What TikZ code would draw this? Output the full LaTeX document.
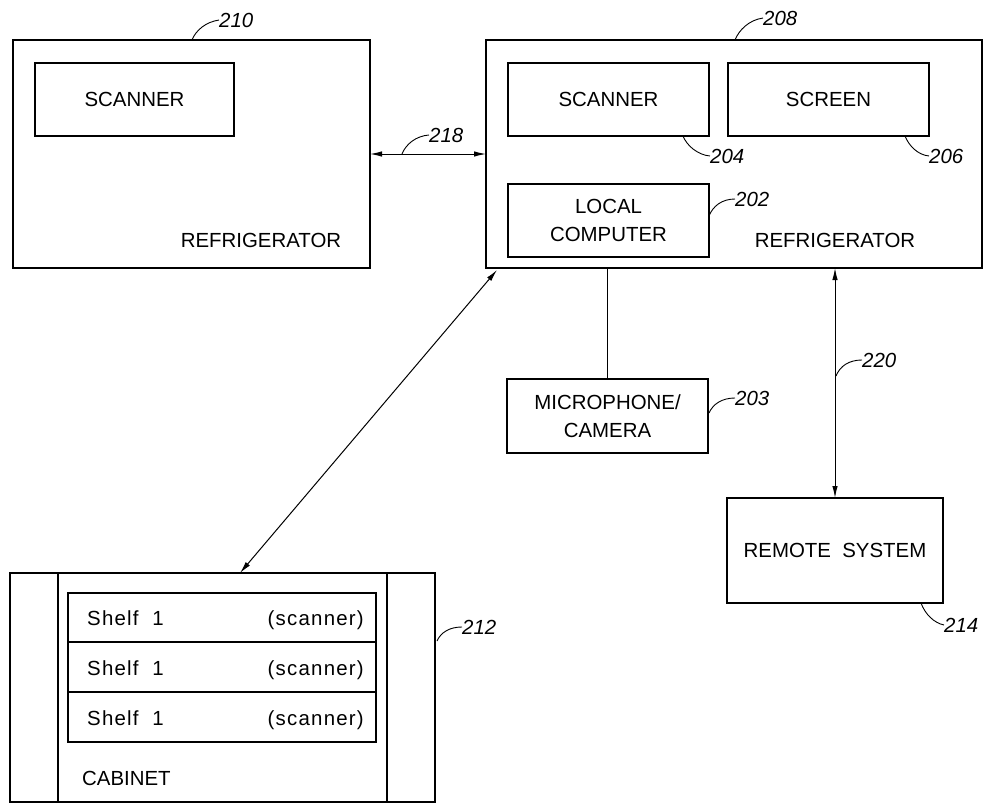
\documentclass[tikz,border=0pt]{standalone}
\usepackage{fontspec}
\setmainfont{Liberation Sans}
\usetikzlibrary{arrows.meta,calc}
\begin{document}
\begin{tikzpicture}[x=1bp,y=-1bp,
  box/.style={draw, line width=1.6bp, inner sep=0pt, outer sep=0pt, anchor=north west},
  txt/.style={font=\fontsize{20.5}{25}\selectfont, inner sep=0pt},
  shtxt/.style={font=\fontsize{20.5}{25}\selectfont\addfontfeatures{LetterSpace=6}, inner sep=0pt},
  lbl/.style={font=\fontsize{20.5}{25}\selectfont\itshape, inner sep=0pt, anchor=west},
  lead/.style={line width=0.9bp},
  conn/.style={line width=1bp},
  arr/.style={conn, {Latex[length=12bp,width=5.5bp]}-{Latex[length=12bp,width=5.5bp]}}]
\useasboundingbox (0,0) rectangle (992,804);
% refrigerator 210
\node[box, minimum width=357bp, minimum height=228bp] (f210) at (13,40) {};
\node[box, minimum width=199bp, minimum height=73bp] (s210) at (35,63) {};
\node[txt] at (s210.center) {SCANNER};
\node[txt] (r210) at (261,240) {REFRIGERATOR};
% refrigerator 208
\node[box, minimum width=496bp, minimum height=228bp] (f208) at (486,40) {};
\node[box, minimum width=201bp, minimum height=73bp] (s204) at (508,63) {};
\node[txt] at (s204.center) {SCANNER};
\node[box, minimum width=201bp, minimum height=73bp] (s206) at (728,63) {};
\node[txt] at (s206.center) {SCREEN};
\node[box, minimum width=201bp, minimum height=73bp] (c202) at (508,184) {};
\node[txt, align=center] at (c202.center) {LOCAL\\[3bp]COMPUTER};
\node[txt] (r208) at (835,240) {REFRIGERATOR};
% microphone
\node[box, minimum width=201bp, minimum height=74bp] (mic) at (507,379) {};
\node[txt, align=center] at (mic.center) {MICROPHONE/\\[3bp]CAMERA};
% remote
\node[box, minimum width=216bp, minimum height=105bp] (rem) at (727,498) {};
\node[txt] at (rem.center) {REMOTE\ \ SYSTEM};
% cabinet
\node[box, minimum width=425bp, minimum height=229bp] (cab) at (10,573) {};
\draw[line width=1.2bp] ($(cab.north west)+(48,0)$) -- ($(cab.south west)+(48,0)$);
\draw[line width=1.2bp] ($(cab.north west)+(377,0)$) -- ($(cab.south west)+(377,0)$);
\node[box, line width=1.2bp, minimum width=308bp, minimum height=49bp] (sh1) at (68,593) {};
\node[box, line width=1.2bp, minimum width=308bp, minimum height=50bp] (sh2) at (68,642) {};
\node[box, line width=1.2bp, minimum width=308bp, minimum height=50bp] (sh3) at (68,692) {};
\foreach \s in {sh1,sh2,sh3}{
  \node[shtxt, anchor=base west] at ($(\s.west)+(19,8)$) {Shelf\ \ 1};
  \node[shtxt, anchor=base east] at ($(\s.east)+(-12,8)$) {(scanner)};
}
\node[txt, anchor=west] (cabt) at (82,778) {CABINET};
% connectors
\draw[arr] (f210.east) -- (f208.west);
\draw[conn] (mic.north) -- (mic.north |- f208.south);
\draw[arr] (rem.north) -- (rem.north |- f208.south);
\coordinate (dtop) at ($(f208.south west)+(11,2)$);
\coordinate (dbot) at ($(cab.north west)+(230,0)$);
\draw[arr] (dbot) -- (dtop);
% reference labels
\node[lbl] (l210) at (219,20) {210};
\draw[lead] (192,40) .. controls (196,30) and (206,22) .. (l210.west);
\node[lbl] (l208) at (763,18) {208};
\draw[lead] (735,40) .. controls (739,30) and (749,20) .. (l208.west);
\node[lbl] (l218) at (429,135) {218};
\draw[lead] (402,154) .. controls (406,144) and (416,136) .. (l218.west);
\node[lbl] (l204) at (710,156) {204};
\draw[lead] (683,136) .. controls (687,146) and (698,155) .. (l204.west);
\node[lbl] (l206) at (929,156) {206};
\draw[lead] (905,136) .. controls (909,146) and (918,155) .. (l206.west);
\node[lbl] (l202) at (735,199) {202};
\draw[lead] (709,216) .. controls (713,206) and (722,199) .. (l202.west);
\node[lbl] (l203) at (735,398) {203};
\draw[lead] (709,413) .. controls (713,404) and (722,398) .. (l203.west);
\node[lbl] (l220) at (862,360) {220};
\draw[lead] (836,376) .. controls (840,366) and (849,360) .. (l220.west);
\node[lbl] (l214) at (944,625) {214};
\draw[lead] (921,603) .. controls (925,614) and (934,623) .. (l214.west);
\node[lbl] (l212) at (462,627) {212};
\draw[lead] (437,641) .. controls (441,632) and (450,627) .. (l212.west);
\end{tikzpicture}
\end{document}
